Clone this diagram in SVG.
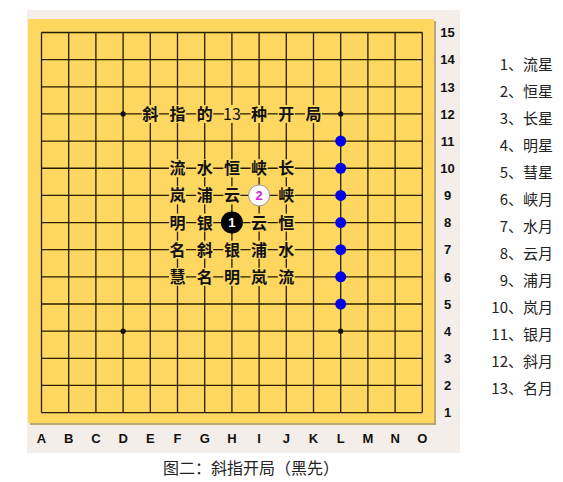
<svg xmlns="http://www.w3.org/2000/svg" width="563" height="482" viewBox="0 0 563 482">
<style>
.grid{stroke:#2a1c00;stroke-width:1.3;fill:none}
.lbl{font-family:"Noto Sans CJK SC","Noto Sans CJK JP",sans-serif;font-size:16px;font-weight:bold;fill:#111;text-anchor:middle}
.bg{fill:#FDD760}
.coord{font-family:"Liberation Sans",Arial,sans-serif;font-size:13px;font-weight:bold;fill:#111;text-anchor:middle}
.list{font-family:"Noto Sans CJK SC",sans-serif;font-size:15px;fill:#222;text-anchor:end}
.blue{fill:#0000E8}
.star{fill:#111}
</style>
<rect x="27" y="10" width="433" height="443" fill="#F3EEE9"/>
<rect x="30" y="21" width="406" height="404" fill="#B9A679"/>
<rect x="28" y="19" width="406" height="404" fill="#FDD760"/>
<g id="grid">
<path class="grid" d="M41.5 32.5V412.6M68.7 32.5V412.6M95.9 32.5V412.6M123.1 32.5V412.6M150.3 32.5V412.6M177.5 32.5V412.6M204.7 32.5V412.6M231.9 32.5V412.6M259.1 32.5V412.6M286.3 32.5V412.6M313.5 32.5V412.6M340.7 32.5V412.6M367.9 32.5V412.6M395.1 32.5V412.6M422.3 32.5V412.6M41.5 32.5H422.3M41.5 59.65H422.3M41.5 86.8H422.3M41.5 113.95H422.3M41.5 141.1H422.3M41.5 168.25H422.3M41.5 195.4H422.3M41.5 222.55H422.3M41.5 249.7H422.3M41.5 276.85H422.3M41.5 304H422.3M41.5 331.15H422.3M41.5 358.3H422.3M41.5 385.45H422.3M41.5 412.6H422.3"/>
</g>
<g id="stars">
<circle class="star" cx="123.1" cy="113.95" r="2.6"/>
<circle class="star" cx="340.7" cy="113.95" r="2.6"/>
<circle class="star" cx="123.1" cy="331.15" r="2.6"/>
<circle class="star" cx="340.7" cy="331.15" r="2.6"/>
</g>
<g id="blue-points">
<circle class="blue" cx="340.7" cy="141.1" r="5.5"/>
<circle class="blue" cx="340.7" cy="168.25" r="5.5"/>
<circle class="blue" cx="340.7" cy="195.4" r="5.5"/>
<circle class="blue" cx="340.7" cy="222.55" r="5.5"/>
<circle class="blue" cx="340.7" cy="249.7" r="5.5"/>
<circle class="blue" cx="340.7" cy="276.85" r="5.5"/>
<circle class="blue" cx="340.7" cy="304" r="5.5"/>
</g>
<g id="title">
<rect class="bg" x="141.8" y="104.95" width="17" height="18"/><text class="lbl" x="150.3" y="119.9">斜</text>
<rect class="bg" x="169" y="104.95" width="17" height="18"/><text class="lbl" x="177.5" y="119.9">指</text>
<rect class="bg" x="196.2" y="104.95" width="17" height="18"/><text class="lbl" x="204.7" y="119.9">的</text>
<rect class="bg" x="223.9" y="104.95" width="16" height="18"/><text class="lbl" x="231.9" y="119.9" style="font-weight:normal">13</text>
<rect class="bg" x="250.6" y="104.95" width="17" height="18"/><text class="lbl" x="259.1" y="119.9">种</text>
<rect class="bg" x="277.8" y="104.95" width="17" height="18"/><text class="lbl" x="286.3" y="119.9">开</text>
<rect class="bg" x="305" y="104.95" width="17" height="18"/><text class="lbl" x="313.5" y="119.9">局</text>
</g>
<g id="labels">
<rect class="bg" x="169" y="159.25" width="17" height="18"/><text class="lbl" x="177.5" y="174.2">流</text>
<rect class="bg" x="196.2" y="159.25" width="17" height="18"/><text class="lbl" x="204.7" y="174.2">水</text>
<rect class="bg" x="223.4" y="159.25" width="17" height="18"/><text class="lbl" x="231.9" y="174.2">恒</text>
<rect class="bg" x="250.6" y="159.25" width="17" height="18"/><text class="lbl" x="259.1" y="174.2">峡</text>
<rect class="bg" x="277.8" y="159.25" width="17" height="18"/><text class="lbl" x="286.3" y="174.2">长</text>

<rect class="bg" x="169" y="186.4" width="17" height="18"/><text class="lbl" x="177.5" y="201.35">岚</text>
<rect class="bg" x="196.2" y="186.4" width="17" height="18"/><text class="lbl" x="204.7" y="201.35">浦</text>
<rect class="bg" x="223.4" y="186.4" width="17" height="18"/><text class="lbl" x="231.9" y="201.35">云</text>
<rect class="bg" x="277.8" y="186.4" width="17" height="18"/><text class="lbl" x="286.3" y="201.35">峡</text>

<rect class="bg" x="169" y="213.55" width="17" height="18"/><text class="lbl" x="177.5" y="228.5">明</text>
<rect class="bg" x="196.2" y="213.55" width="17" height="18"/><text class="lbl" x="204.7" y="228.5">银</text>
<rect class="bg" x="250.6" y="213.55" width="17" height="18"/><text class="lbl" x="259.1" y="228.5">云</text>
<rect class="bg" x="277.8" y="213.55" width="17" height="18"/><text class="lbl" x="286.3" y="228.5">恒</text>

<rect class="bg" x="169" y="240.7" width="17" height="18"/><text class="lbl" x="177.5" y="255.65">名</text>
<rect class="bg" x="196.2" y="240.7" width="17" height="18"/><text class="lbl" x="204.7" y="255.65">斜</text>
<rect class="bg" x="223.4" y="240.7" width="17" height="18"/><text class="lbl" x="231.9" y="255.65">银</text>
<rect class="bg" x="250.6" y="240.7" width="17" height="18"/><text class="lbl" x="259.1" y="255.65">浦</text>
<rect class="bg" x="277.8" y="240.7" width="17" height="18"/><text class="lbl" x="286.3" y="255.65">水</text>

<rect class="bg" x="169" y="267.85" width="17" height="18"/><text class="lbl" x="177.5" y="282.8">慧</text>
<rect class="bg" x="196.2" y="267.85" width="17" height="18"/><text class="lbl" x="204.7" y="282.8">名</text>
<rect class="bg" x="223.4" y="267.85" width="17" height="18"/><text class="lbl" x="231.9" y="282.8">明</text>
<rect class="bg" x="250.6" y="267.85" width="17" height="18"/><text class="lbl" x="259.1" y="282.8">岚</text>
<rect class="bg" x="277.8" y="267.85" width="17" height="18"/><text class="lbl" x="286.3" y="282.8">流</text>
</g>
<g id="stone1">
<circle cx="231.9" cy="222.55" r="11" fill="#000"/>
<text x="231.9" y="227.3" font-family="Liberation Sans,Arial,sans-serif" font-size="13" font-weight="bold" fill="#fff" text-anchor="middle">1</text>
</g>
<g id="stone2">
<circle cx="259.1" cy="195.4" r="10.5" fill="#fff" stroke="#9a9a9a" stroke-width="1"/>
<text x="259.1" y="200.1" font-family="Liberation Sans,Arial,sans-serif" font-size="13" font-weight="bold" fill="#E020E0" text-anchor="middle">2</text>
</g>
<g id="row-numbers">
<text class="coord" x="447.5" y="37.2">15</text>
<text class="coord" x="447.5" y="64.35">14</text>
<text class="coord" x="447.5" y="91.5">13</text>
<text class="coord" x="447.5" y="118.65">12</text>
<text class="coord" x="447.5" y="145.8">11</text>
<text class="coord" x="447.5" y="172.95">10</text>
<text class="coord" x="447.5" y="200.1">9</text>
<text class="coord" x="447.5" y="227.25">8</text>
<text class="coord" x="447.5" y="254.4">7</text>
<text class="coord" x="447.5" y="281.55">6</text>
<text class="coord" x="447.5" y="308.7">5</text>
<text class="coord" x="447.5" y="335.85">4</text>
<text class="coord" x="447.5" y="363">3</text>
<text class="coord" x="447.5" y="390.15">2</text>
<text class="coord" x="447.5" y="417.3">1</text>
</g>
<g id="col-letters">
<text class="coord" x="41.5" y="443">A</text>
<text class="coord" x="68.7" y="443">B</text>
<text class="coord" x="95.9" y="443">C</text>
<text class="coord" x="123.1" y="443">D</text>
<text class="coord" x="150.3" y="443">E</text>
<text class="coord" x="177.5" y="443">F</text>
<text class="coord" x="204.7" y="443">G</text>
<text class="coord" x="231.9" y="443">H</text>
<text class="coord" x="259.1" y="443">I</text>
<text class="coord" x="286.3" y="443">J</text>
<text class="coord" x="313.5" y="443">K</text>
<text class="coord" x="340.7" y="443">L</text>
<text class="coord" x="367.9" y="443">M</text>
<text class="coord" x="395.1" y="443">N</text>
<text class="coord" x="422.3" y="443">O</text>
</g>
<g id="list">
<text class="list" x="553" y="70">1、流星</text>
<text class="list" x="553" y="97">2、恒星</text>
<text class="list" x="553" y="124">3、长星</text>
<text class="list" x="553" y="151">4、明星</text>
<text class="list" x="553" y="178">5、彗星</text>
<text class="list" x="553" y="205">6、峡月</text>
<text class="list" x="553" y="232">7、水月</text>
<text class="list" x="553" y="259">8、云月</text>
<text class="list" x="553" y="286">9、浦月</text>
<text class="list" x="553" y="313">10、岚月</text>
<text class="list" x="553" y="340">11、银月</text>
<text class="list" x="553" y="367">12、斜月</text>
<text class="list" x="553" y="394">13、名月</text>
</g>
<text id="caption" x="163" y="474" font-family="Noto Sans CJK SC,sans-serif" font-size="16" fill="#222">图二：斜指开局（黑先）</text>
</svg>
